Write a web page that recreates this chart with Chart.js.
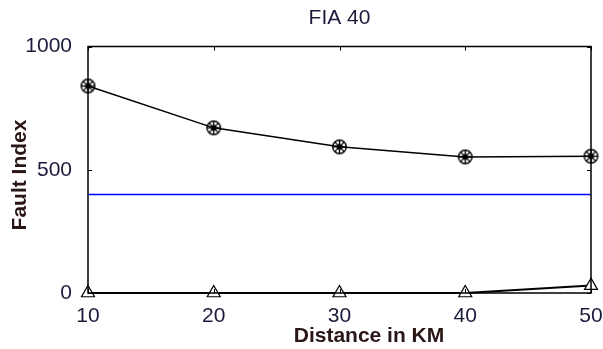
<!DOCTYPE html>
<html>
<head>
<meta charset="utf-8">
<script src="https://cdn.jsdelivr.net/npm/chart.js@4.4.1/dist/chart.umd.min.js"></script>
<style>
  html, body { margin: 0; padding: 0; background: #fff; }
  #wrap { width: 603px; height: 349px; }
</style>
</head>
<body>
<div id="wrap"><canvas id="fia"></canvas></div>
<script>
// ---- data ----
const distances = [10, 20, 30, 40, 50];
const faultIndex = [840, 670, 593, 552, 555];
const lowIndex = [0, 0, 0, 0, 30];
const threshold = [400, 400, 400, 400, 400];
const xTicks = [10, 20, 30, 40, 50];
const yTicks = [0, 500, 1000];

const toPts = (ys) => distances.map((d, i) => ({ x: d, y: ys[i] }));

// circled asterisk marker
function starMarker() {
  const c = document.createElement('canvas');
  c.width = 17; c.height = 17;
  const g = c.getContext('2d');
  g.strokeStyle = '#000';
  g.lineWidth = 1.4;
  g.beginPath(); g.arc(8.5, 8.5, 6.8, 0, Math.PI * 2); g.stroke();
  g.lineWidth = 1.3;
  for (let a = 0; a < 4; a++) {
    const t = a * Math.PI / 4;
    g.beginPath();
    g.moveTo(8.5 - Math.cos(t) * 6.5, 8.5 - Math.sin(t) * 6.5);
    g.lineTo(8.5 + Math.cos(t) * 6.5, 8.5 + Math.sin(t) * 6.5);
    g.stroke();
  }
  g.fillStyle = '#000';
  g.beginPath(); g.arc(8.5, 8.5, 3, 0, Math.PI * 2); g.fill();
  return c;
}

const tickColor = '#1c1c3c';
const titleColor = '#2a1616';
const fam = '"Liberation Sans", Arial, sans-serif';

// box around the plot, inward ticks, axis titles
const frame = {
  id: 'frame',
  afterDatasetsDraw(chart) {
    const { ctx, chartArea: a, scales: { x, y } } = chart;
    ctx.save();
    ctx.strokeStyle = '#000';
    ctx.lineWidth = 1.5;
    ctx.strokeRect(a.left, a.top, a.right - a.left, a.bottom - a.top);
    ctx.lineWidth = 1;
    xTicks.forEach(v => {
      const px = Math.round(x.getPixelForValue(v)) + 0.5;
      ctx.beginPath();
      ctx.moveTo(px, a.bottom); ctx.lineTo(px, a.bottom - 4);
      ctx.moveTo(px, a.top); ctx.lineTo(px, a.top + 4);
      ctx.stroke();
    });
    yTicks.forEach(v => {
      const py = Math.round(y.getPixelForValue(v)) + 0.5;
      ctx.beginPath();
      ctx.moveTo(a.left, py); ctx.lineTo(a.left + 4, py);
      ctx.moveTo(a.right, py); ctx.lineTo(a.right - 4, py);
      ctx.stroke();
    });
    ctx.fillStyle = titleColor;
    ctx.font = 'bold 21px ' + fam;
    ctx.textAlign = 'center';
    ctx.textBaseline = 'middle';
    ctx.fillText('Distance in KM', 369, 336);
    ctx.translate(20, 175);
    ctx.rotate(-Math.PI / 2);
    ctx.fillText('Fault Index', 0, 0);
    ctx.restore();
  }
};

new Chart(document.getElementById('fia'), {
  type: 'line',
  data: {
    datasets: [
      {
        label: 'threshold',
        data: toPts(threshold),
        borderColor: '#0000ff',
        borderWidth: 1.5,
        pointRadius: 0,
        clip: false
      },
      {
        label: 'low',
        data: toPts(lowIndex),
        borderColor: '#000',
        borderWidth: 2,
        pointStyle: 'triangle',
        pointRadius: 7.5,
        pointBorderWidth: 1.2,
        pointBackgroundColor: '#fff',
        pointBorderColor: '#000',
        clip: false
      },
      {
        label: 'fault index',
        data: toPts(faultIndex),
        borderColor: '#000',
        borderWidth: 1.5,
        pointStyle: starMarker(),
        clip: false
      }
    ]
  },
  options: {
    responsive: true,
    maintainAspectRatio: false,
    animation: false,
    layout: { padding: { top: 0, right: 12, bottom: 0, left: 0 } },
    plugins: {
      legend: { display: false },
      tooltip: { enabled: false },
      title: {
        display: true,
        text: 'FIA 40',
        fullSize: false,
        color: tickColor,
        font: { family: fam, size: 21, weight: 'normal' },
        padding: { top: 6, bottom: 15.3 }
      }
    },
    scales: {
      x: {
        type: 'linear',
        min: 10,
        max: 50,
        grid: { display: false },
        border: { display: false },
        afterBuildTicks: (s) => { s.ticks = xTicks.map(v => ({ value: v })); },
        afterFit: (s) => { s.height = 56; s.paddingLeft = 0; s.paddingRight = 0; },
        ticks: {
          color: tickColor,
          padding: 3,
          maxRotation: 0,
          callback: (v) => String(v),
          font: { family: fam, size: 21 }
        }
      },
      y: {
        min: 0,
        max: 1000,
        grid: { display: false },
        border: { display: false },
        afterBuildTicks: (s) => { s.ticks = yTicks.map(v => ({ value: v })); },
        afterFit: (s) => { s.width = 88; s.paddingTop = 0; s.paddingBottom = 0; },
        ticks: {
          color: tickColor,
          padding: 8,
          callback: (v) => String(v),
          font: { family: fam, size: 21 }
        }
      }
    }
  },
  plugins: [frame]
});
</script>
</body>
</html>
